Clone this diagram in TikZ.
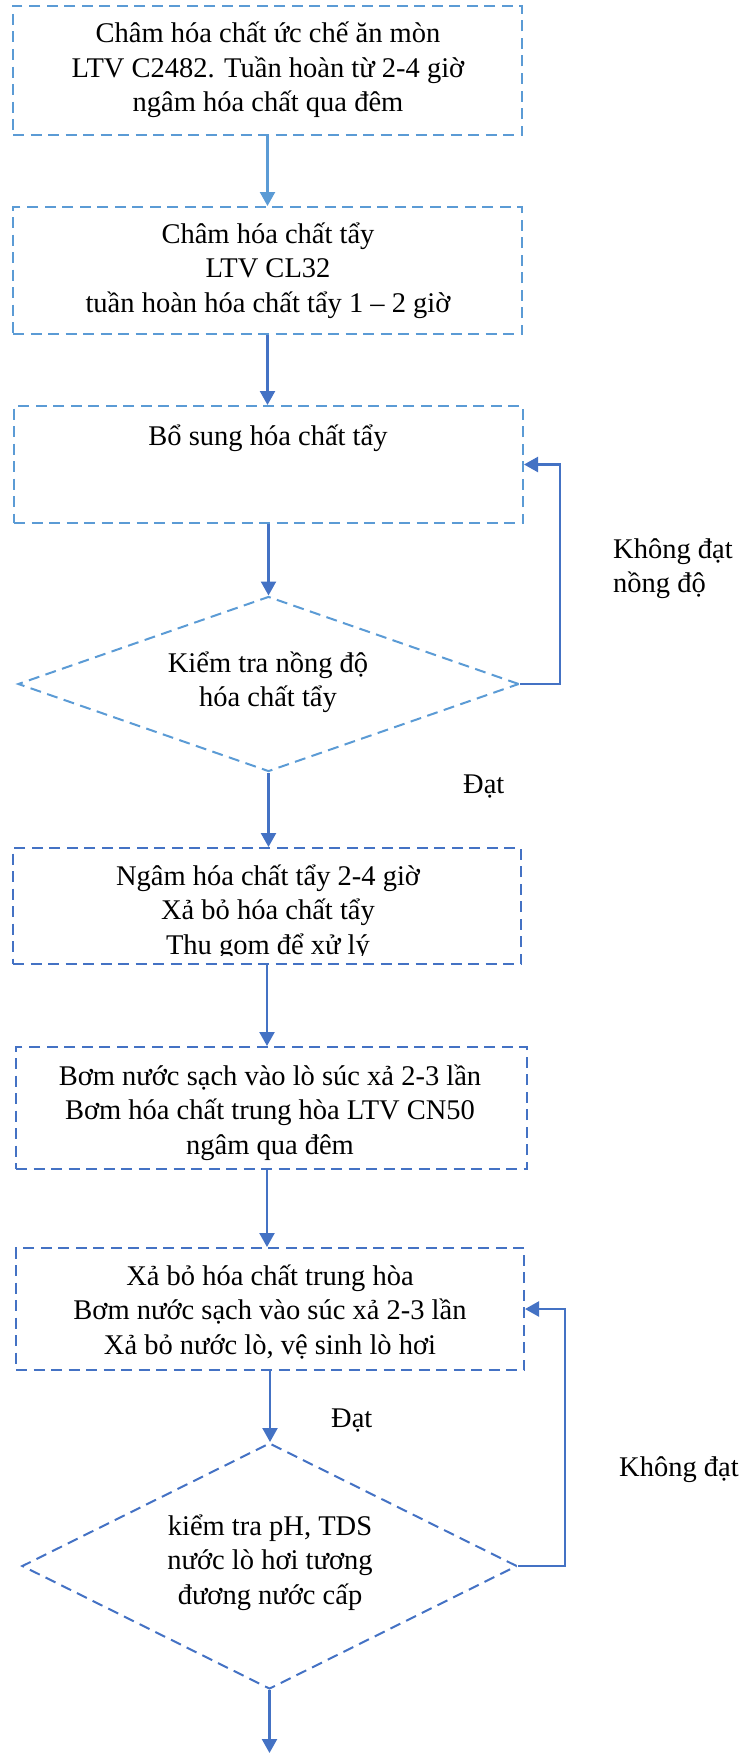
\documentclass[tikz,border=0pt]{standalone}
\usepackage{fontspec}
\setmainfont{Liberation Serif}
\usetikzlibrary{shapes.geometric,arrows.meta}
\definecolor{lblue}{RGB}{91,155,213}
\definecolor{dblue}{RGB}{68,114,196}
\newcommand\mylines[1]{\begin{tabular}[t]{@{}c@{}}#1\end{tabular}}
\newcommand\myleft[1]{\begin{tabular}[t]{@{}l@{}}#1\end{tabular}}
\tikzset{
  dbox/.style={draw, rectangle, line width=2pt, dash pattern=on 11pt off 6.5pt, inner sep=0pt},
  ddia/.style={draw, diamond, line width=2pt, dash pattern=on 11pt off 6.5pt, inner sep=0pt},
  txt/.style={inner sep=0pt, anchor=base, font=\fontsize{28.5}{34.5}\selectfont},
  lbl/.style={inner sep=0pt, anchor=base west, font=\fontsize{28.5}{34.5}\selectfont},
  arr/.style={line width=2.3pt, -{Triangle[width=15pt,length=14pt]}},
}
\begin{document}
\begin{tikzpicture}[x=1pt,y=-1pt]
\useasboundingbox (0,0) rectangle (741,1753);
% boxes
\node[dbox, lblue, minimum width=509pt, minimum height=129pt] (B1) at (267.5,70.5) {};
\node[dbox, lblue, minimum width=509pt, minimum height=127pt] (B2) at (267.5,270.5) {};
\node[dbox, lblue, minimum width=509pt, minimum height=117pt] (B3) at (268.5,464.5) {};
\node[ddia, lblue, minimum width=501pt, minimum height=175pt] (D1) at (268.5,684) {};
\node[dbox, dblue, minimum width=508pt, minimum height=116pt] (B4) at (267,906) {};
\node[dbox, dblue, minimum width=511pt, minimum height=122pt] (B5) at (271.5,1108) {};
\node[dbox, dblue, minimum width=508pt, minimum height=122pt] (B6) at (270,1309) {};
\node[ddia, dblue, minimum width=495pt, minimum height=246pt] (D2) at (269.5,1566) {};
% texts
\node[txt] (T1) at (268,43) {\mylines{Châm hóa chất ức chế ăn mòn\\LTV C2482. Tuần hoàn từ 2-4 giờ\\ngâm hóa chất qua đêm}};
\node[txt] (T2) at (268,243) {\mylines{Châm hóa chất tẩy\\LTV CL32\\tuần hoàn hóa chất tẩy 1 – 2 giờ}};
\node[txt] (T3) at (268,445) {Bổ sung hóa chất tẩy};
\node[txt] (TD1) at (268,672) {\mylines{Kiểm tra nồng độ\\hóa chất tẩy}};
\begin{scope}
\clip (13,848) rectangle (521,955);
\node[txt] (T4) at (268,885) {\mylines{Ngâm hóa chất tẩy 2-4 giờ\\Xả bỏ hóa chất tẩy\\Thu gom để xử lý}};
\end{scope}
\node[txt] (T5) at (270,1085) {\mylines{Bơm nước sạch vào lò súc xả 2-3 lần\\Bơm hóa chất trung hòa LTV CN50\\ngâm qua đêm}};
\node[txt] (T6) at (270,1285) {\mylines{Xả bỏ hóa chất trung hòa\\Bơm nước sạch vào súc xả 2-3 lần\\Xả bỏ nước lò, vệ sinh lò hơi}};
\node[txt] (TD2) at (270,1535) {\mylines{kiểm tra pH, TDS\\nước lò hơi tương\\đương nước cấp}};
% labels
\node[lbl] (L1) at (613,558) {\myleft{Không đạt\\nồng độ}};
\node[lbl] (L2) at (463,793) {Đạt};
\node[lbl] (L3) at (331,1427) {Đạt};
\node[lbl] (L4) at (619,1476) {Không đạt};
% connectors
\coordinate (k1) at (560,684);
\coordinate (k2) at (565,1566);
\coordinate (endp) at (269.5,1753);
\draw[arr, lblue] (B1.south) -- (B1.south |- B2.north);
\draw[arr, dblue] (B2.south) -- (B2.south |- B3.north);
\draw[arr, dblue] (B3.south) -- (B3.south |- D1.north);
\draw[arr, dblue] (D1.south) -- (D1.south |- B4.north);
\draw[arr, dblue] (B4.south) -- (B4.south |- B5.north);
\draw[arr, dblue] (B5.south -| B4.south) -- (B4.south |- B6.north);
\draw[arr, dblue] (B6.south) -- (B6.south |- D2.north);
\draw[arr, dblue] (D2.south) -- (endp);
\draw[arr, dblue] (D1.east) -- (k1) |- (B3.east);
\draw[arr, dblue] (D2.east) -- (k2) |- (B6.east);
\end{tikzpicture}
\end{document}
